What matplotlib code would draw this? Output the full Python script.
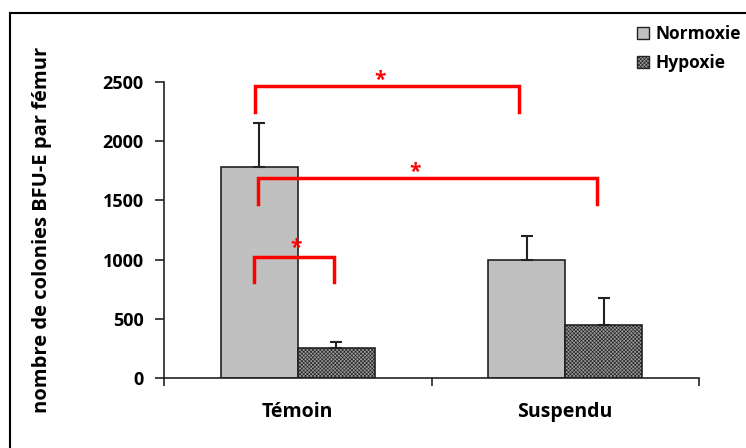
import matplotlib
matplotlib.use("Agg")
import matplotlib.pyplot as plt
import numpy as np
from matplotlib.patches import Rectangle
from matplotlib.lines import Line2D

plt.rcParams['font.family'] = ['Open Sans', 'DejaVu Sans']
plt.rcParams['font.weight'] = 'bold'
plt.rcParams['hatch.linewidth'] = 0.45
plt.rcParams['hatch.color'] = '#555555'

categories = ['Témoin', 'Suspendu']
series = ['Normoxie', 'Hypoxie']
normoxie = [1780, 995]
normoxie_err = [370, 205]
hypoxie = [252, 446]
hypoxie_err = [52, 228]
yticks = [0, 500, 1000, 1500, 2000, 2500]

# significance brackets: (x_left, x_right, y_top, y_bottom, star_x, star_y)
brackets = [
    (-0.160, 0.828, 2466, 2247, 0.306, 2515),
    (-0.149, 1.119, 1689, 1470, 0.440, 1740),
    (-0.164, 0.134, 1022, 811, -0.007, 1095),
]

fig = plt.figure(figsize=(7.46, 4.48), dpi=100)
ax = fig.add_axes([164/746, 1-378/448, (699-164)/746, (378-82)/448])

x = np.arange(len(categories))
w = 0.287
ax.bar(x - w/2, normoxie, width=w, color='#c0c0c0', edgecolor='#222222', linewidth=1.2, zorder=2)
ax.bar(x + w/2, hypoxie, width=w, color='#9a9a9a', edgecolor='#222222', linewidth=1.2,
       hatch='xxxxxxxxx', zorder=2)
ax.errorbar(x - w/2, normoxie, yerr=[np.zeros(2), normoxie_err], fmt='none', ecolor='#222222',
            elinewidth=1.5, capsize=4.5, capthick=1.5, zorder=3)
ax.errorbar(x + w/2, hypoxie, yerr=[np.zeros(2), hypoxie_err], fmt='none', ecolor='#222222',
            elinewidth=1.5, capsize=4.5, capthick=1.5, zorder=3)

for xl, xr, yt, yb, sx, sy in brackets:
    ax.plot([xl, xl, xr, xr], [yb, yt, yt, yb], color='red', lw=2.5, solid_joinstyle='miter', zorder=4,
            clip_on=False)
    ax.text(sx, sy, '*', color='red', fontsize=15, ha='center', va='center', zorder=5)

ax.set_xlim(-0.5, 1.5)
ax.set_ylim(0, 2500)
ax.set_yticks(yticks)
ax.set_yticklabels([str(v) for v in yticks], fontsize=13, fontweight='bold')
ax.set_xticks([-0.5, 0.5, 1.5])
ax.set_xticklabels([])
ax.set_xticks(x, minor=True)
ax.set_xticklabels(categories, minor=True, fontsize=14, fontweight='bold')
ax.tick_params(axis='x', which='minor', length=0, pad=17)
ax.tick_params(axis='x', which='major', length=6, width=1.2, direction='out', color='#222222')
ax.tick_params(axis='y', length=6.5, width=1.2, direction='out', color='#222222', pad=8)
for s in ['top', 'right']:
    ax.spines[s].set_visible(False)
for s in ['left', 'bottom']:
    ax.spines[s].set_linewidth(1.2)
    ax.spines[s].set_color('#222222')

ax.set_ylabel('nombre de colonies BFU-E par fémur', fontsize=14.5, fontweight='bold')
ax.yaxis.set_label_coords(-112/535, 0.5)

# legend
handles = [Rectangle((0, 0), 1, 1, facecolor='#c0c0c0', edgecolor='#222222', linewidth=1.0),
           Rectangle((0, 0), 1, 1, facecolor='#9a9a9a', edgecolor='#222222', linewidth=1.0, hatch='xxxxxxxxx')]
fig.legend(handles, series, loc='upper left', bbox_to_anchor=(630/746, 1-18/448), frameon=False,
           prop={'size': 12.5, 'weight': 'bold'}, handlelength=0.7, handleheight=0.7,
           handletextpad=0.35, labelspacing=0.65, borderaxespad=0)

# outer frame (partially visible)
fig.add_artist(Line2D([10/746, 10/746], [0, 1-13/448], transform=fig.transFigure, color='black', lw=1.5))
fig.add_artist(Line2D([10/746, 1], [1-13/448, 1-13/448], transform=fig.transFigure, color='black', lw=1.5))

fig.savefig('out.png', dpi=100)
